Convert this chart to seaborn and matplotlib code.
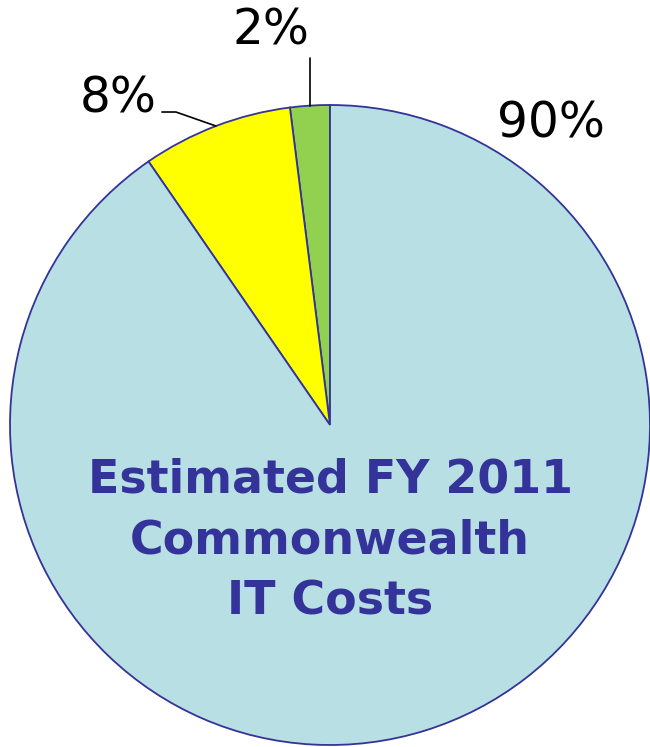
import numpy as np
import matplotlib
matplotlib.use("Agg")
import matplotlib.pyplot as plt
import seaborn as sns

# slice shares, in drawing order from 12 o'clock, counter-clockwise
categories = ["Share C", "Share B", "Share A"]
shares = [2.0, 7.6, 90.4]
slice_colors = ["#92D050", "#FFFF00", "#B8DFE3"]
center_lines = ["Estimated FY 2011", "Commonwealth", "IT Costs"]

navy = "#333399"

sns.set_style("white")
plt.rcParams['font.family'] = ['DejaVu Sans']

W, H = 650, 747
fig = plt.figure(figsize=(W / 100, H / 100), dpi=100)
ax = fig.add_axes([0, 0, 1, 1])

cx, cy, r = 330, H - 425, 320
wedges, _ = ax.pie(shares, colors=slice_colors, startangle=90, counterclock=True,
                   center=(cx, cy), radius=r, frame=True,
                   wedgeprops=dict(edgecolor=navy, linewidth=1.3))
ax.set_xlim(0, W)
ax.set_ylim(0, H)
ax.set_aspect("equal")
ax.axis("off")


def edge_point(w):
    mid = np.deg2rad((w.theta1 + w.theta2) / 2)
    return cx + r * np.cos(mid), cy + r * np.sin(mid)


labels = [f"{round(v)}%" for v in shares]

# 2% : vertical leader
x2, y2 = edge_point(wedges[0])
ax.plot([x2, x2], [y2, y2 + 48], color="black", lw=1.2)
ax.text(x2 - 39, y2 + 75, labels[0], fontsize=35, ha="center", va="center", color="black")

# 8% : elbow leader
x8, y8 = edge_point(wedges[1])
ax.plot([x8, x8 - 40, x8 - 54], [y8, y8 + 14, y8 + 14], color="black", lw=1.2)
ax.text(x8 - 98, y8 + 28, labels[1], fontsize=35, ha="center", va="center", color="black")

# 90%
ax.text(cx + 221, cy + 302, labels[2], fontsize=35, ha="center", va="center", color="black")

# centre title
for i, line in enumerate(center_lines):
    ax.text(cx, cy - 55 - i * 61, line, fontsize=33, fontweight="bold",
            color=navy, ha="center", va="center")

fig.savefig("out.png", dpi=100)
